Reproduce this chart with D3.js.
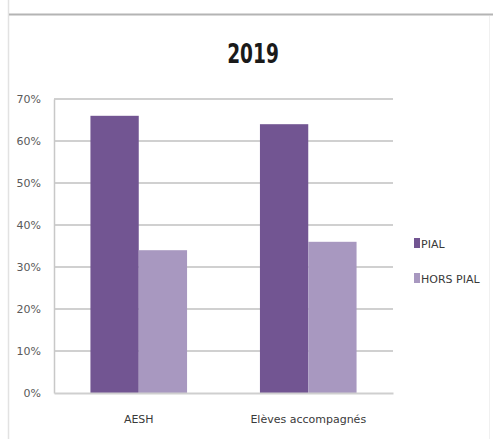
<!DOCTYPE html>
<html><head><meta charset="utf-8">
<script src="https://cdn.jsdelivr.net/npm/d3@7"></script>
<style>
body{margin:0;background:#fff;}
svg{display:block;}
text{font-family:"DejaVu Sans",sans-serif;}
.title{font-stretch:condensed;}
</style></head>
<body>
<script>
const title = "2019";
const categories = ["AESH", "Elèves accompagnés"];
const seriesNames = ["PIAL", "HORS PIAL"];
const pialValues = [0.66, 0.64];
const horsPialValues = [0.34, 0.36];
const yTicks = [0, 0.1, 0.2, 0.3, 0.4, 0.5, 0.6, 0.7];
const colors = ["#725592", "#a898c0"];

const W = 493, H = 439;
const svg = d3.select("body").append("svg").attr("width", W).attr("height", H);

// frame lines
svg.append("line").attr("x1", 8.5).attr("x2", 8.5).attr("y1", 0).attr("y2", H)
  .attr("stroke", "#e2e2e2").attr("stroke-width", 1.5);
svg.append("line").attr("x1", 9).attr("x2", W).attr("y1", 14.5).attr("y2", 14.5)
  .attr("stroke", "#b4b4b4").attr("stroke-width", 2);
svg.append("line").attr("x1", 489.5).attr("x2", 489.5).attr("y1", 16).attr("y2", H)
  .attr("stroke", "#f0f0f0").attr("stroke-width", 1);

const m = {left: 54, right: 393, top: 99, bottom: 393};
const x0 = d3.scaleBand().domain(categories).range([m.left, m.right]).paddingInner(0.43).paddingOuter(0.215);
const x1 = d3.scaleBand().domain(seriesNames).range([0, x0.bandwidth()]);
const y = d3.scaleLinear().domain([0, 0.7]).range([m.bottom, m.top]);

// gridlines
svg.append("g").selectAll("line").data(yTicks.filter(d => d > 0)).join("line")
  .attr("x1", m.left).attr("x2", m.right)
  .attr("y1", d => y(d)).attr("y2", d => y(d))
  .attr("stroke", "#d0d0d0").attr("stroke-width", 2);

// y axis
const yAxis = svg.append("g").attr("transform", `translate(${m.left},0)`)
  .call(d3.axisLeft(y).tickValues(yTicks).tickFormat(d3.format(".0%")).tickSize(0).tickPadding(13));
yAxis.select(".domain").attr("stroke", "#c8c8c8").attr("stroke-width", 1.5);
yAxis.selectAll("text").attr("fill", "#5a5a5a").attr("font-size", 11);

// bars
const data = categories.map((c, i) => ({cat: c, vals: [pialValues[i], horsPialValues[i]]}));
const g = svg.append("g").selectAll("g").data(data).join("g")
  .attr("transform", d => `translate(${x0(d.cat)},0)`);
g.selectAll("rect").data(d => d.vals.map((v, j) => ({s: seriesNames[j], v, j}))).join("rect")
  .attr("x", d => x1(d.s)).attr("width", x1.bandwidth())
  .attr("y", d => y(d.v)).attr("height", d => y(0) - y(d.v))
  .attr("fill", d => colors[d.j]);

// x axis
const xAxis = svg.append("g").attr("transform", `translate(0,${m.bottom})`)
  .call(d3.axisBottom(x0).tickSize(0).tickPadding(22));
xAxis.select(".domain").attr("stroke", "#cfcfcf").attr("stroke-width", 2);
xAxis.selectAll("text").attr("fill", "#3a3a3a").attr("font-size", 11);

// title
svg.append("text").attr("class", "title").attr("transform", "translate(253,63) scale(0.86,1.12)")
  .attr("text-anchor", "middle")
  .attr("font-size", 24).attr("font-weight", "bold").attr("fill", "#1a1a1a").text(title);

// legend
const leg = svg.append("g").selectAll("g").data(seriesNames).join("g")
  .attr("transform", (d, i) => `translate(414,${238 + i * 35})`);
leg.append("rect").attr("width", 6).attr("height", 10).attr("fill", (d, i) => colors[i]);
leg.append("text").attr("x", 7).attr("y", 10).attr("font-size", 11).attr("fill", "#3a3a3a").text(d => d);
</script>
</body></html>
